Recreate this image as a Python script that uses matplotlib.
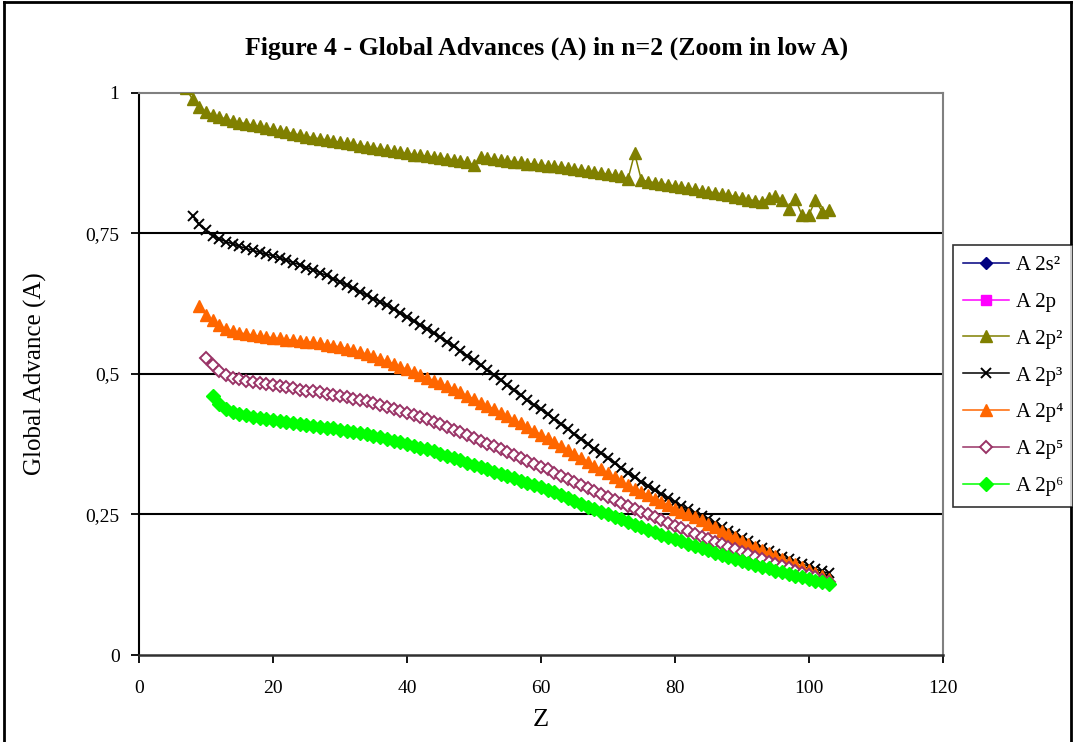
import matplotlib
matplotlib.use("Agg")
import matplotlib.pyplot as plt
from matplotlib.lines import Line2D

# ---------------- data ----------------
title = "Figure 4 - Global Advances (A) in n=2 (Zoom in low A)"
x_label = "Z"
y_label = "Global Advance (A)"
x_ticks = [0, 20, 40, 60, 80, 100, 120]
y_ticks = [0, 0.25, 0.5, 0.75, 1]
y_tick_labels = ["0", "0,25", "0,5", "0,75", "1"]

series_names = ["A 2s\u00b2", "A 2p", "A 2p\u00b2", "A 2p\u00b3", "A 2p\u2074", "A 2p\u2075", "A 2p\u2076"]

# A 2s2 and A 2p lie above the zoomed range (no visible points)
z_2s2 = []
a_2s2 = []
z_2p1 = []
a_2p1 = []

z_2p2 = list(range(7, 104))
a_2p2 = [1.008, 0.988, 0.975, 0.966, 0.961, 0.957, 0.953, 0.950, 0.947, 0.945,
         0.942, 0.940, 0.937, 0.935, 0.932, 0.930, 0.927, 0.925, 0.922, 0.920,
         0.918, 0.916, 0.914, 0.912, 0.910, 0.908, 0.906, 0.904, 0.902, 0.900,
         0.898, 0.896, 0.894, 0.892, 0.890, 0.889, 0.887, 0.886, 0.884, 0.882,
         0.881, 0.879, 0.876, 0.871, 0.886, 0.884, 0.882, 0.880, 0.879, 0.877,
         0.876, 0.874, 0.873, 0.871, 0.870, 0.869, 0.868, 0.866, 0.864, 0.863,
         0.861, 0.859, 0.857, 0.855, 0.853, 0.851, 0.846, 0.892, 0.845, 0.842,
         0.840, 0.838, 0.836, 0.834, 0.832, 0.830, 0.828, 0.826, 0.824, 0.822,
         0.820, 0.818, 0.815, 0.813, 0.810, 0.808, 0.806, 0.813, 0.816, 0.809,
         0.794, 0.811, 0.782, 0.782, 0.809, 0.788, 0.791]

z_2p3 = list(range(8, 104))
a_2p3 = [0.781, 0.766, 0.755, 0.746, 0.740, 0.735, 0.731, 0.727, 0.723, 0.720,
         0.716, 0.713, 0.710, 0.706, 0.702, 0.698, 0.694, 0.689, 0.685, 0.680,
         0.675, 0.669, 0.664, 0.658, 0.652, 0.646, 0.640, 0.634, 0.628, 0.622,
         0.615, 0.608, 0.601, 0.594, 0.587, 0.580, 0.572, 0.565, 0.557, 0.549,
         0.541, 0.532, 0.524, 0.515, 0.507, 0.498, 0.489, 0.480, 0.471, 0.462,
         0.453, 0.444, 0.437, 0.428, 0.420, 0.411, 0.402, 0.393, 0.385, 0.376,
         0.367, 0.359, 0.350, 0.341, 0.333, 0.324, 0.316, 0.308, 0.301, 0.293,
         0.286, 0.279, 0.272, 0.265, 0.259, 0.253, 0.247, 0.241, 0.234, 0.228,
         0.221, 0.215, 0.208, 0.202, 0.196, 0.190, 0.185, 0.180, 0.175, 0.170,
         0.166, 0.162, 0.158, 0.153, 0.149, 0.145]

z_2p4 = list(range(9, 104))
a_2p4 = [0.621, 0.604, 0.595, 0.586, 0.580, 0.576, 0.573, 0.571, 0.569, 0.567,
         0.566, 0.564, 0.563, 0.561, 0.560, 0.559, 0.557, 0.556, 0.554, 0.552,
         0.550, 0.548, 0.545, 0.542, 0.539, 0.535, 0.531, 0.527, 0.522, 0.518,
         0.513, 0.508, 0.503, 0.498, 0.493, 0.488, 0.483, 0.478, 0.473, 0.467,
         0.461, 0.455, 0.449, 0.443, 0.437, 0.431, 0.425, 0.418, 0.412, 0.405,
         0.399, 0.392, 0.386, 0.379, 0.372, 0.365, 0.358, 0.351, 0.344, 0.337,
         0.330, 0.323, 0.316, 0.309, 0.302, 0.296, 0.290, 0.284, 0.278, 0.272,
         0.266, 0.260, 0.255, 0.250, 0.245, 0.240, 0.233, 0.227, 0.221, 0.215,
         0.209, 0.203, 0.197, 0.192, 0.186, 0.181, 0.176, 0.171, 0.166, 0.161,
         0.156, 0.151, 0.146, 0.141, 0.136]

z_2p5 = list(range(10, 104))
a_2p5 = [0.529, 0.516, 0.505, 0.498, 0.493, 0.490, 0.488, 0.486, 0.484, 0.482,
         0.480, 0.478, 0.476, 0.474, 0.472, 0.470, 0.470, 0.467, 0.465, 0.463,
         0.461, 0.459, 0.456, 0.454, 0.451, 0.448, 0.445, 0.441, 0.438, 0.434,
         0.431, 0.427, 0.423, 0.419, 0.415, 0.410, 0.405, 0.400, 0.396, 0.391,
         0.386, 0.381, 0.376, 0.371, 0.366, 0.361, 0.355, 0.350, 0.345, 0.340,
         0.335, 0.330, 0.324, 0.318, 0.313, 0.308, 0.302, 0.297, 0.292, 0.286,
         0.281, 0.276, 0.270, 0.265, 0.260, 0.255, 0.250, 0.245, 0.240, 0.235,
         0.230, 0.225, 0.220, 0.215, 0.210, 0.206, 0.201, 0.197, 0.192, 0.188,
         0.183, 0.179, 0.175, 0.170, 0.166, 0.162, 0.158, 0.154, 0.150, 0.146,
         0.142, 0.138, 0.134, 0.130]

z_2p6 = list(range(11, 104))
a_2p6 = [0.460, 0.447, 0.437, 0.432, 0.429, 0.426, 0.424, 0.422, 0.420, 0.418,
         0.416, 0.414, 0.412, 0.411, 0.409, 0.408, 0.406, 0.404, 0.403, 0.401,
         0.399, 0.397, 0.395, 0.393, 0.390, 0.387, 0.384, 0.381, 0.378, 0.375,
         0.372, 0.369, 0.366, 0.362, 0.358, 0.354, 0.350, 0.346, 0.342, 0.338,
         0.334, 0.330, 0.326, 0.322, 0.318, 0.314, 0.310, 0.306, 0.302, 0.298,
         0.293, 0.289, 0.284, 0.279, 0.274, 0.269, 0.264, 0.259, 0.255, 0.250,
         0.245, 0.241, 0.236, 0.232, 0.227, 0.223, 0.219, 0.214, 0.210, 0.206,
         0.202, 0.198, 0.194, 0.190, 0.186, 0.182, 0.178, 0.175, 0.171, 0.167,
         0.164, 0.160, 0.157, 0.154, 0.150, 0.147, 0.144, 0.141, 0.138, 0.135,
         0.132, 0.129, 0.126]

# ---------------- styles ----------------
serif = ["Liberation Serif", "DejaVu Serif"]
plt.rcParams["font.family"] = serif

styles = [
    dict(color="#000080", marker="D", ms=6.5, mfc="#000080", mec="#000080"),
    dict(color="#FF00FF", marker="s", ms=7, mfc="#FF00FF", mec="#FF00FF"),
    dict(color="#808000", marker="^", ms=9, mfc="#808000", mec="#808000"),
    dict(color="#000000", marker="x", ms=6.5, mfc="#000000", mec="#000000", mew=1.4),
    dict(color="#FF6600", marker="^", ms=9, mfc="#FF6600", mec="#FF6600"),
    dict(color="#993366", marker="D", ms=6, mfc="white", mec="#993366", mew=1.4),
    dict(color="#00FF00", marker="D", ms=7, mfc="#00FF00", mec="#00FF00"),
]

fig = plt.figure(figsize=(10.73, 7.42), dpi=100)
ax = fig.add_axes([139 / 1073, 1 - 655 / 742, (942.7 - 139) / 1073, (655 - 92.7) / 742])

data = [(z_2s2, a_2s2), (z_2p1, a_2p1), (z_2p2, a_2p2), (z_2p3, a_2p3),
        (z_2p4, a_2p4), (z_2p5, a_2p5), (z_2p6, a_2p6)]
handles = []
for (zs, vals), name, st in zip(data, series_names, styles):
    ln, = ax.plot(zs, vals, lw=1.1, label=name, zorder=3, **st)
    handles.append(ln)

ax.set_xlim(0, 120)
ax.set_ylim(0, 1)
ax.set_xticks(x_ticks)
ax.set_xticklabels([str(t) for t in x_ticks])
ax.set_yticks(y_ticks)
ax.set_yticklabels(y_tick_labels)
ax.tick_params(axis="both", direction="out", length=6, width=1.3, labelsize=14, color="black")
ax.tick_params(axis="x", pad=12)
ax.tick_params(axis="y", pad=8)

for yv in [0.25, 0.5, 0.75]:
    ax.axhline(yv, color="black", lw=1.5, zorder=1)

ax.spines["left"].set_color("black")
ax.spines["left"].set_linewidth(1.5)
ax.spines["bottom"].set_color("#303030")
ax.spines["bottom"].set_linewidth(1.8)
ax.spines["top"].set_color("#808080")
ax.spines["top"].set_linewidth(1.5)
ax.spines["right"].set_color("#808080")
ax.spines["right"].set_linewidth(1.5)

ax.set_xlabel(x_label, fontsize=19, labelpad=9)
ax.set_ylabel(y_label, fontsize=18, labelpad=28)

fig.text(547 / 1073, 1 - 48 / 742, title, ha="center", va="center",
         fontsize=18.5, fontweight="bold")

leg = fig.legend(handles=handles, loc="upper left",
                 bbox_to_anchor=(953 / 1073, 1 - 245 / 742),
                 frameon=True, fancybox=False, edgecolor="black",
                 fontsize=15, labelspacing=0.83, handlelength=2.2,
                 handletextpad=0.3, borderpad=0.5, borderaxespad=0)
leg.get_frame().set_linewidth(1.2)

# outer chart border
fig.add_artist(Line2D([4 / 1073, 4 / 1073], [0, 1 - 2 / 742], color="black", lw=2, transform=fig.transFigure))
fig.add_artist(Line2D([4 / 1073, 1071 / 1073], [1 - 2 / 742, 1 - 2 / 742], color="black", lw=2, transform=fig.transFigure))
fig.add_artist(Line2D([1071 / 1073, 1071 / 1073], [0, 1 - 2 / 742], color="black", lw=2, transform=fig.transFigure))

fig.savefig("out.png", dpi=100)
